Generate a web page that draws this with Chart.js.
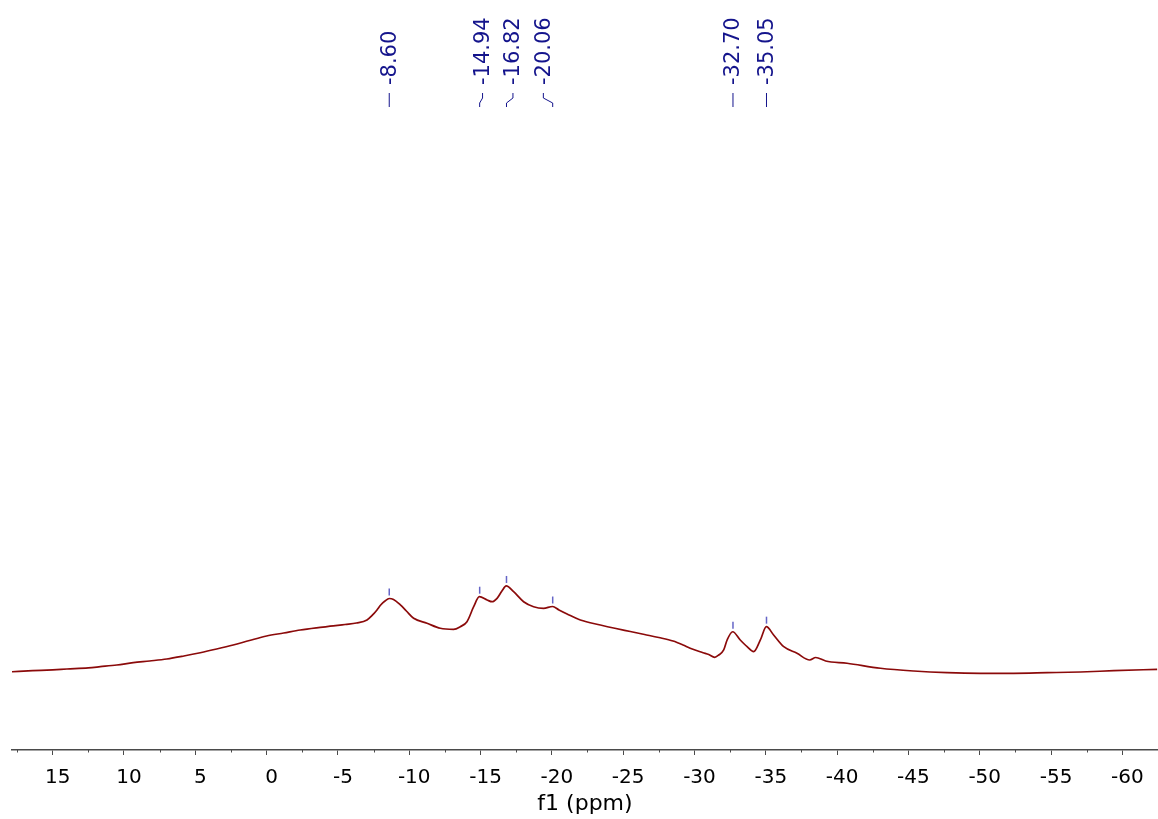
<!DOCTYPE html>
<html>
<head>
<meta charset="utf-8">
<title>f1 (ppm)</title>
<script src="https://cdn.jsdelivr.net/npm/chart.js@4.4.1/dist/chart.umd.min.js"></script>
<style>
  html, body { margin: 0; padding: 0; background: #ffffff; }
  #wrap { width: 1158px; height: 819px; position: relative; }
</style>
</head>
<body>
<div id="wrap"><canvas id="spectrum"></canvas></div>
<script>
// Chemical shift (ppm) of each sampled point of the trace
const shifts = [
  17.85, 16.4, 15.0, 14.0, 12.5, 11.66, 10.5, 9.35, 8.2, 7.0,
  5.8, 4.65, 3.5, 2.34, 1.2, 0.0, -1.2, -2.36, -3.5, -4.68,
  -5.5, -6.3, -7.04, -7.4, -7.74, -8.0, -8.3, -8.6, -8.9, -9.38,
  -9.8, -10.31, -11.25, -12.18, -13.11, -13.58, -14.05, -14.52, -14.92, -15.46,
  -15.81, -16.16, -16.5, -16.8, -17.32, -18.02, -18.72, -19.42, -20.05, -20.5,
  -21.07, -22.0, -23.4, -24.5, -25.5, -26.5, -27.5, -28.5, -29.2, -29.7,
  -30.6, -31.0, -31.42, -31.7, -32.05, -32.29, -32.68, -33.21, -33.69, -34.15,
  -34.62, -35.04, -35.55, -36.26, -37.19, -38.08, -38.5, -39.2, -40.7, -43.04,
  -45.37, -47.71, -50.05, -52.38, -54.73, -57.06, -59.4, -62.44
];

// Signal intensity (arbitrary units) at each shift above
const intensity = [
  12.23, 12.39, 12.53, 12.66, 12.84, 13.02, 13.28, 13.64, 13.91, 14.22,
  14.69, 15.20, 15.78, 16.41, 17.11, 17.81, 18.28, 18.75, 19.09, 19.38,
  19.61, 19.84, 20.31, 21.02, 21.88, 22.66, 23.28, 23.67, 23.52, 22.66,
  21.72, 20.58, 19.80, 19.02, 18.86, 19.27, 20.05, 22.39, 23.95, 23.44,
  23.17, 23.70, 24.84, 25.63, 24.73, 23.17, 22.39, 22.14, 22.42, 21.88,
  21.25, 20.31, 19.53, 18.98, 18.52, 18.05, 17.58, 17.03, 16.41, 15.89,
  15.20, 14.92, 14.48, 14.84, 15.63, 17.19, 18.48, 17.19, 16.14, 15.36,
  17.19, 19.27, 17.97, 16.14, 15.11, 14.06, 14.45, 13.91, 13.55, 12.77,
  12.34, 12.08, 11.98, 11.98, 12.08, 12.19, 12.39, 12.61
];

// Picked peaks (ppm)
const peakShifts = [-8.60, -14.94, -16.82, -20.06, -32.70, -35.05];

// Labelled axis ticks and the unlabelled ticks between them (ppm)
const majorTicks = [15, 10, 5, 0, -5, -10, -15, -20, -25, -30, -35, -40, -45, -50, -55, -60];
const minorTicks = [17.5, 12.5, 7.5, 2.5, -2.5, -7.5, -12.5, -17.5, -22.5, -27.5, -32.5, -37.5, -42.5, -47.5, -52.5, -57.5];

const AXIS_COLOR = '#4a4a4a';
const LABEL_COLOR = '#14148c';
const MARK_COLOR = 'rgba(50, 50, 180, 0.75)';

// Short unlabelled ticks along the shift axis
const minorTickPlugin = {
  id: 'minorTicks',
  afterDraw(chart) {
    const { ctx, scales: { x }, chartArea } = chart;
    ctx.save();
    ctx.strokeStyle = AXIS_COLOR;
    ctx.lineWidth = 1;
    minorTicks.forEach(v => {
      const px = Math.round(x.getPixelForValue(v)) + 0.5;
      ctx.beginPath();
      ctx.moveTo(px, chartArea.bottom);
      ctx.lineTo(px, chartArea.bottom + 2.5);
      ctx.stroke();
    });
    ctx.restore();
  }
};

// Spread crowded peak labels so that they do not overlap
function spreadLabels(pxs, minGap, joinGap) {
  const out = pxs.slice();
  let i = 0;
  while (i < pxs.length) {
    let j = i;
    while (j + 1 < pxs.length && Math.abs(pxs[j + 1] - pxs[j]) < joinGap) j++;
    let crowded = false;
    for (let k = i; k < j; k++) if (Math.abs(pxs[k + 1] - pxs[k]) < minGap) crowded = true;
    if (crowded) {
      const n = j - i + 1;
      const mean = pxs.slice(i, j + 1).reduce((a, b) => a + b, 0) / n;
      for (let k = 0; k < n; k++) out[i + k] = mean + (k - (n - 1) / 2) * minGap;
    }
    i = j + 1;
  }
  return out;
}

// Peak-pick labels at the top, connectors, and marks above each peak
const peakLabelPlugin = {
  id: 'peakLabels',
  afterDatasetsDraw(chart) {
    const { ctx, scales: { x, y } } = chart;
    const pxs = peakShifts.map(v => x.getPixelForValue(v));
    const pos = spreadLabels(pxs, 30.4, 47);
    ctx.save();

    // labels
    ctx.fillStyle = LABEL_COLOR;
    ctx.font = '21px "DejaVu Sans"';
    ctx.textAlign = 'left';
    ctx.textBaseline = 'middle';
    peakShifts.forEach((v, i) => {
      ctx.save();
      ctx.translate(pos[i], 85);
      ctx.rotate(-Math.PI / 2);
      ctx.fillText(v.toFixed(2), 0, 1);
      ctx.restore();
    });

    // connectors
    ctx.strokeStyle = LABEL_COLOR;
    ctx.lineWidth = 1;
    peakShifts.forEach((v, i) => {
      ctx.beginPath();
      if (Math.abs(pos[i] - pxs[i]) < 0.5) {
        ctx.moveTo(pxs[i], 93);
        ctx.lineTo(pxs[i], 107);
      } else {
        ctx.moveTo(pos[i], 93);
        ctx.lineTo(pos[i], 98);
        ctx.lineTo(pxs[i], 103);
        ctx.lineTo(pxs[i], 107);
      }
      ctx.stroke();
    });

    // marks just above each picked peak
    ctx.strokeStyle = MARK_COLOR;
    ctx.lineWidth = 1.5;
    peakShifts.forEach((v, i) => {
      let top = -Infinity;
      shifts.forEach((s, k) => { if (Math.abs(s - v) <= 0.35) top = Math.max(top, intensity[k]); });
      const py = y.getPixelForValue(top);
      ctx.beginPath();
      ctx.moveTo(pxs[i], py - 10);
      ctx.lineTo(pxs[i], py - 3);
      ctx.stroke();
    });
    ctx.restore();
  }
};

new Chart(document.getElementById('spectrum'), {
  type: 'line',
  data: {
    datasets: [{
      data: shifts.map((s, i) => ({ x: s, y: intensity[i] })),
      borderColor: '#8b0a0a',
      borderWidth: 1.7,
      pointRadius: 0,
      cubicInterpolationMode: 'monotone',
      fill: false
    }]
  },
  options: {
    responsive: true,
    maintainAspectRatio: false,
    animation: false,
    events: [],
    layout: { padding: { top: 110, left: 12, right: 0, bottom: 4 } },
    plugins: { legend: { display: false }, tooltip: { enabled: false } },
    scales: {
      x: {
        type: 'linear',
        reverse: true,
        min: -62.5,
        max: 17.85,
        afterBuildTicks(scale) { scale.ticks = majorTicks.map(v => ({ value: v })); },
        border: { display: true, color: AXIS_COLOR, width: 1.5 },
        grid: { display: true, drawOnChartArea: false, drawTicks: true, tickLength: 5, tickColor: AXIS_COLOR, tickWidth: 1 },
        ticks: {
          color: '#000',
          font: { family: '"DejaVu Sans"', size: 20 },
          padding: 11,
          labelOffset: 5,
          maxRotation: 0,
          autoSkip: false,
          callback: v => String(v)
        },
        title: {
          display: true,
          text: 'f1 (ppm)',
          color: '#000',
          font: { family: '"DejaVu Sans"', size: 22, lineHeight: 1 },
          padding: { top: -8, bottom: 0 }
        }
      },
      y: { display: false, min: 0, max: 100 }
    }
  },
  plugins: [minorTickPlugin, peakLabelPlugin]
});
</script>
</body>
</html>
